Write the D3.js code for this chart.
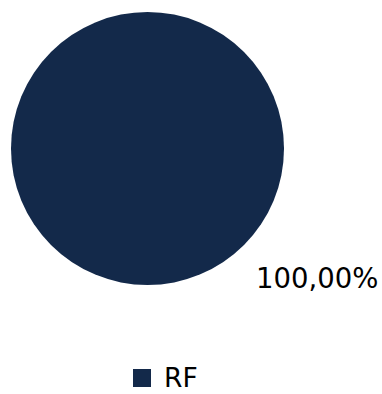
<!DOCTYPE html>
<html>
<head>
<meta charset="utf-8">
<script src="https://cdn.jsdelivr.net/npm/d3@7"></script>
<style>
  html, body { margin: 0; padding: 0; background: #ffffff; }
  svg { display: block; }
</style>
</head>
<body>
<script>
// Share of the single category
const categories = ["RF"];
const values = [100];
const colors = ["#13294a"];

const width = 382, height = 394;
const cx = 147.5, cy = 148.5, radius = 136.5;

const svg = d3.select("body").append("svg")
  .attr("width", width)
  .attr("height", height);

const pie = d3.pie().sort(null).value(d => d)(values);
const arc = d3.arc().innerRadius(0).outerRadius(radius);

const g = svg.append("g").attr("transform", `translate(${cx},${cy})`);
g.selectAll("path")
  .data(pie)
  .join("path")
  .attr("d", arc)
  .attr("fill", (d, i) => colors[i]);

// Percentage label, formatted with a decimal comma
const total = d3.sum(values);
const fmt = v => d3.format(".2f")(v).replace(".", ",") + "%";
svg.selectAll("text.pct")
  .data(pie)
  .join("text")
  .attr("class", "pct")
  .attr("x", 256)
  .attr("y", 288)
  .attr("font-family", "DejaVu Sans, sans-serif")
  .attr("font-size", 27.5)
  .attr("fill", "#000")
  .text(d => fmt(d.data / total * 100));

// Legend
const legend = svg.append("g").attr("transform", "translate(133,369)");
legend.selectAll("rect")
  .data(categories)
  .join("rect")
  .attr("width", 18)
  .attr("height", 18)
  .attr("fill", (d, i) => colors[i]);
legend.selectAll("text")
  .data(categories)
  .join("text")
  .attr("x", 31)
  .attr("y", 18)
  .attr("font-family", "DejaVu Sans, sans-serif")
  .attr("font-size", 26.5)
  .attr("fill", "#000")
  .text(d => d);
</script>
</body>
</html>
